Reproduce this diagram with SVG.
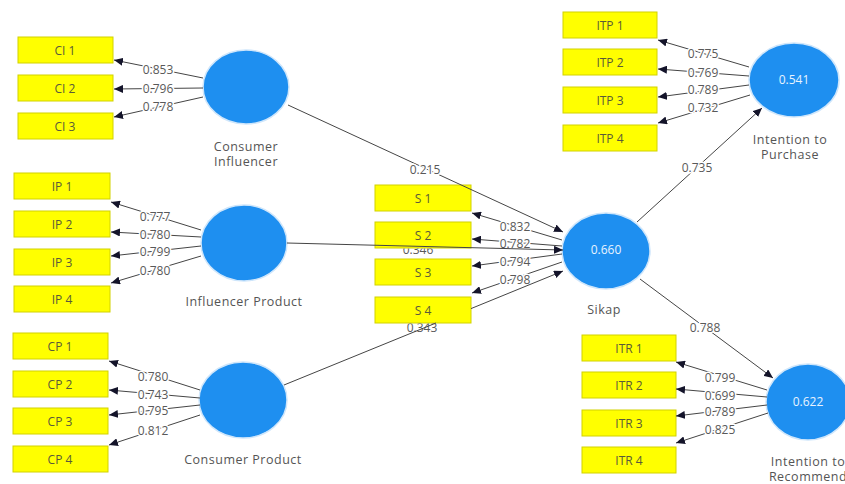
<svg xmlns="http://www.w3.org/2000/svg" width="845" height="484" viewBox="0 0 845 484">
<style>
.box{fill:#ffff00;stroke:#d2d200;stroke-width:1}
.bt{font-family:"Open Sans","Noto Sans",sans-serif;font-size:12px;fill:#5a5a3a;text-anchor:middle;dominant-baseline:central}
.lv{fill:#1e8ff0;stroke:#cfe6fb;stroke-width:1.5}
.lt{font-family:"Open Sans","Noto Sans",sans-serif;font-size:12.5px;letter-spacing:0.5px;fill:#555;text-anchor:middle}
.rt{font-family:"Open Sans","Noto Sans",sans-serif;font-size:12px;fill:#e8f3ff;text-anchor:middle;dominant-baseline:central}
.c{stroke:#454545;stroke-width:1;fill:none;marker-end:url(#ah)}
.w{font-family:"Open Sans","Noto Sans",sans-serif;font-size:12px;fill:#595959;text-anchor:middle;dominant-baseline:central;stroke:#fff;stroke-width:3;paint-order:stroke;stroke-linejoin:round}
</style>
<defs>
<marker id="ah" markerUnits="userSpaceOnUse" markerWidth="9" markerHeight="8" refX="9" refY="4" orient="auto"><path d="M0,0 L9,4 L0,8 z" fill="#14142a"/></marker>
<clipPath id="c346"><rect x="380" y="248.5" width="80" height="20"/></clipPath>
<clipPath id="c343"><rect x="380" y="323.5" width="80" height="20"/></clipPath>
</defs>
<rect width="845" height="484" fill="#fff"/>

<g id="CI1"><rect class="box" x="18" y="37" width="95" height="26"/><text class="bt" x="65" y="50">CI 1</text></g>
<g id="CI2"><rect class="box" x="18" y="75" width="95" height="26"/><text class="bt" x="65" y="88">CI 2</text></g>
<g id="CI3"><rect class="box" x="18" y="113" width="95" height="26"/><text class="bt" x="65" y="126">CI 3</text></g>

<g id="IP1"><rect class="box" x="14" y="173" width="96" height="26"/><text class="bt" x="62" y="186">IP 1</text></g>
<g id="IP2"><rect class="box" x="14" y="211" width="96" height="26"/><text class="bt" x="62" y="224">IP 2</text></g>
<g id="IP3"><rect class="box" x="14" y="249" width="96" height="26"/><text class="bt" x="62" y="262">IP 3</text></g>
<g id="IP4"><rect class="box" x="14" y="286" width="96" height="26"/><text class="bt" x="62" y="299">IP 4</text></g>

<g id="CP1"><rect class="box" x="13" y="333" width="95" height="26"/><text class="bt" x="60" y="346">CP 1</text></g>
<g id="CP2"><rect class="box" x="13" y="371" width="95" height="26"/><text class="bt" x="60" y="384">CP 2</text></g>
<g id="CP3"><rect class="box" x="13" y="408" width="95" height="26"/><text class="bt" x="60" y="421">CP 3</text></g>
<g id="CP4"><rect class="box" x="13" y="446" width="95" height="26"/><text class="bt" x="60" y="459">CP 4</text></g>

<g id="S1"><rect class="box" x="375" y="185" width="96" height="26"/><text class="bt" x="423" y="198">S 1</text></g>
<g id="S2"><rect class="box" x="375" y="222" width="96" height="26"/><text class="bt" x="423" y="235">S 2</text></g>
<g id="S3"><rect class="box" x="375" y="259" width="96" height="26"/><text class="bt" x="423" y="272">S 3</text></g>
<g id="S4"><rect class="box" x="375" y="297" width="96" height="26"/><text class="bt" x="423" y="310">S 4</text></g>

<g id="ITP1"><rect class="box" x="563" y="12" width="94" height="26"/><text class="bt" x="610" y="25">ITP 1</text></g>
<g id="ITP2"><rect class="box" x="563" y="49" width="94" height="26"/><text class="bt" x="610" y="62">ITP 2</text></g>
<g id="ITP3"><rect class="box" x="563" y="87" width="94" height="26"/><text class="bt" x="610" y="100">ITP 3</text></g>
<g id="ITP4"><rect class="box" x="563" y="125" width="94" height="26"/><text class="bt" x="610" y="138">ITP 4</text></g>

<g id="ITR1"><rect class="box" x="582" y="335" width="94" height="26"/><text class="bt" x="629" y="348">ITR 1</text></g>
<g id="ITR2"><rect class="box" x="582" y="372" width="94" height="26"/><text class="bt" x="629" y="385">ITR 2</text></g>
<g id="ITR3"><rect class="box" x="582" y="410" width="94" height="26"/><text class="bt" x="629" y="423">ITR 3</text></g>
<g id="ITR4"><rect class="box" x="582" y="447" width="94" height="26"/><text class="bt" x="629" y="460">ITR 4</text></g>

<g id="ConsumerInfluencer"><ellipse class="lv" cx="246" cy="87" rx="43" ry="37"/><text class="lt" x="246" y="151">Consumer</text><text class="lt" x="246" y="166">Influencer</text></g>
<g id="InfluencerProduct"><ellipse class="lv" cx="244" cy="243" rx="43" ry="38"/><text class="lt" x="244" y="306">Influencer Product</text></g>
<g id="ConsumerProduct"><ellipse class="lv" cx="243" cy="400" rx="44" ry="38"/><text class="lt" x="243" y="464">Consumer Product</text></g>
<g id="Sikap"><ellipse class="lv" cx="606" cy="251" rx="44" ry="38"/><text class="rt" x="606" y="249">0.660</text><text class="lt" x="604" y="314">Sikap</text></g>
<g id="IntentionToPurchase"><ellipse class="lv" cx="794" cy="80" rx="45" ry="37"/><text class="rt" x="794" y="79">0.541</text><text class="lt" x="790" y="144">Intention to</text><text class="lt" x="790" y="159">Purchase</text></g>
<g id="IntentionToRecommend"><ellipse class="lv" cx="808" cy="402" rx="42" ry="38"/><text class="rt" x="808" y="401">0.622</text><text class="lt" x="808" y="466">Intention to</text><text class="lt" x="808" y="481">Recommend</text></g>

<g id="connectors">
<line class="c" x1="203" y1="78" x2="114" y2="60"/>
<line class="c" x1="203" y1="88" x2="114" y2="89"/>
<line class="c" x1="203" y1="97" x2="114" y2="117"/>
<text class="w" x="158" y="69">0.853</text>
<text class="w" x="158" y="88">0.796</text>
<text class="w" x="158" y="106">0.778</text>

<line class="c" x1="201" y1="230" x2="111" y2="202"/>
<line class="c" x1="201" y1="237" x2="111" y2="232"/>
<line class="c" x1="201" y1="246" x2="111" y2="256"/>
<line class="c" x1="201" y1="256" x2="111" y2="283"/>
<text class="w" x="155" y="216">0.777</text>
<text class="w" x="155" y="234">0.780</text>
<text class="w" x="155" y="251">0.799</text>
<text class="w" x="155" y="270">0.780</text>

<line class="c" x1="200" y1="390" x2="109" y2="361"/>
<line class="c" x1="200" y1="398" x2="109" y2="390"/>
<line class="c" x1="200" y1="405" x2="109" y2="415"/>
<line class="c" x1="200" y1="415" x2="109" y2="445"/>
<text class="w" x="153" y="376">0.780</text>
<text class="w" x="153" y="394">0.743</text>
<text class="w" x="153" y="410">0.795</text>
<text class="w" x="153" y="430">0.812</text>

<line class="c" x1="562" y1="240" x2="472" y2="213"/>
<line class="c" x1="562" y1="246" x2="472" y2="239"/>
<line class="c" x1="562" y1="254" x2="472" y2="266"/>
<line class="c" x1="562" y1="262" x2="472" y2="293"/>
<text class="w" x="515" y="226">0.832</text>
<text class="w" x="515" y="243">0.782</text>
<text class="w" x="515" y="261">0.794</text>
<text class="w" x="515" y="279">0.798</text>

<line class="c" x1="288" y1="105" x2="563" y2="232"/>
<text class="w" x="425" y="169">0.215</text>
<text class="w" x="418" y="249" clip-path="url(#c346)" style="stroke:none">0.346</text>
<line class="c" x1="287" y1="243" x2="563" y2="250"/>
<text class="w" x="422" y="327" clip-path="url(#c343)" style="stroke:none">0.343</text>
<path class="c" d="M284,385 L436,323 M471,308.6 L563,271"/>

<line class="c" x1="637" y1="222" x2="762" y2="108"/>
<text class="w" x="697" y="167">0.735</text>
<line class="c" x1="640" y1="279" x2="773" y2="378"/>
<text class="w" x="705" y="327">0.788</text>

<line class="c" x1="749" y1="67" x2="658" y2="40"/>
<line class="c" x1="749" y1="76" x2="658" y2="69"/>
<line class="c" x1="749" y1="85" x2="658" y2="97"/>
<line class="c" x1="750" y1="95" x2="658" y2="123"/>
<text class="w" x="703" y="53">0.775</text>
<text class="w" x="703" y="72">0.769</text>
<text class="w" x="703" y="89">0.789</text>
<text class="w" x="703" y="107">0.732</text>

<line class="c" x1="767" y1="390" x2="676" y2="362"/>
<line class="c" x1="767" y1="397" x2="676" y2="389"/>
<line class="c" x1="767" y1="405" x2="676" y2="416"/>
<line class="c" x1="768" y1="413" x2="676" y2="443"/>
<text class="w" x="720" y="377">0.799</text>
<text class="w" x="720" y="395">0.699</text>
<text class="w" x="720" y="411">0.789</text>
<text class="w" x="720" y="429">0.825</text>
</g>
</svg>
